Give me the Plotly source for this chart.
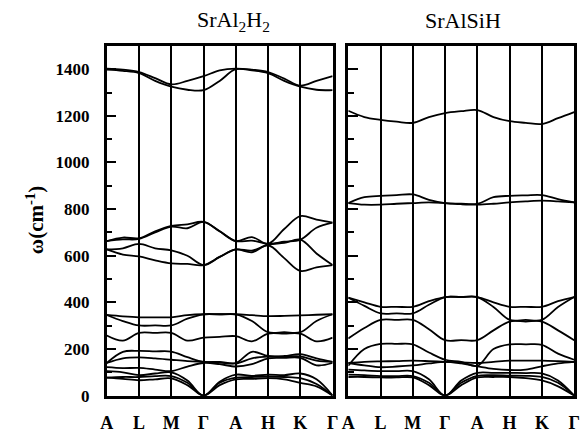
import plotly.graph_objects as go

# k-path (sampled every half segment)
k_labels = ["A", "L", "M", "Γ", "A", "H", "K", "Γ"]
k_ticks = [0, 1, 2, 3, 4, 5, 6, 7]
k_samples = [0, 0.5, 1, 1.5, 2, 2.5, 3, 3.5, 4, 4.5, 5, 5.5, 6, 6.5, 7]

# ---------------- SrAl2H2 phonon bands (cm^-1) ----------------
sral2h2_h1 = [1403, 1398, 1388, 1362, 1335, 1350, 1370, 1395, 1403, 1398, 1388, 1360, 1330, 1350, 1370]
sral2h2_h2 = [1398, 1393, 1383, 1350, 1325, 1312, 1310, 1350, 1400, 1395, 1383, 1350, 1325, 1312, 1310]
sral2h2_m1 = [663, 678, 675, 705, 728, 735, 745, 705, 663, 680, 651, 715, 770, 755, 742]
sral2h2_m2 = [663, 670, 672, 700, 725, 718, 745, 705, 663, 665, 651, 660, 669, 720, 742]
sral2h2_m3 = [627, 632, 651, 632, 623, 600, 560, 595, 627, 622, 648, 655, 669, 610, 560]
sral2h2_m4 = [627, 605, 597, 580, 567, 565, 560, 595, 627, 615, 645, 590, 535, 550, 560]
sral2h2_c1 = [346, 340, 336, 336, 336, 345, 349, 349, 349, 345, 341, 342, 344, 347, 349]
sral2h2_c2 = [346, 320, 301, 301, 301, 330, 349, 349, 349, 320, 272, 272, 272, 320, 349]
sral2h2_c3 = [258, 236, 269, 269, 269, 236, 249, 252, 255, 233, 266, 266, 266, 233, 249]
sral2h2_d1 = [140, 188, 192, 190, 189, 165, 145, 145, 140, 188, 170, 170, 178, 160, 145]
sral2h2_d2 = [140, 160, 164, 160, 154, 148, 145, 142, 138, 160, 167, 167, 168, 150, 145]
sral2h2_d3 = [122, 118, 119, 112, 105, 125, 140, 135, 125, 135, 160, 162, 162, 130, 140]
sral2h2_d4 = [105, 100, 88, 95, 100, 65, 0, 60, 90, 85, 90, 88, 95, 70, 0]
sral2h2_d5 = [77, 80, 80, 84, 84, 55, 0, 55, 77, 80, 82, 80, 75, 50, 0]
sral2h2_d6 = [77, 72, 66, 70, 74, 45, 0, 45, 70, 72, 75, 70, 55, 40, 0]

# ---------------- SrAlSiH phonon bands (cm^-1) ----------------
sralsih_h1 = [1222, 1195, 1183, 1175, 1170, 1195, 1212, 1220, 1225, 1195, 1177, 1170, 1165, 1190, 1216]
sralsih_m1 = [826, 851, 857, 860, 863, 840, 826, 823, 823, 851, 857, 859, 860, 843, 829]
sralsih_m2 = [826, 819, 819, 823, 826, 829, 826, 821, 819, 823, 829, 833, 836, 833, 829]
sralsih_e1 = [420, 400, 381, 381, 381, 405, 423, 423, 423, 400, 381, 381, 381, 405, 423]
sralsih_e2 = [420, 385, 353, 353, 353, 390, 423, 423, 423, 380, 325, 325, 325, 380, 423]
sralsih_e3 = [245, 290, 325, 325, 325, 285, 238, 238, 238, 280, 318, 318, 318, 280, 238]
sralsih_f1 = [128, 200, 222, 222, 220, 185, 154, 145, 128, 200, 220, 220, 218, 180, 154]
sralsih_g1 = [140, 145, 147, 148, 150, 148, 145, 143, 140, 145, 150, 150, 150, 148, 145]
sralsih_g2 = [140, 130, 122, 125, 130, 138, 145, 138, 126, 115, 110, 112, 126, 138, 145]
sralsih_a1 = [112, 108, 105, 105, 105, 70, 0, 65, 98, 98, 98, 97, 95, 65, 0]
sralsih_a2 = [90, 88, 84, 84, 84, 55, 0, 55, 85, 88, 86, 85, 80, 55, 0]
sralsih_a3 = [80, 80, 78, 78, 78, 45, 0, 45, 78, 80, 80, 75, 65, 40, 0]

left_bands = [sral2h2_h1, sral2h2_h2, sral2h2_m1, sral2h2_m2, sral2h2_m3, sral2h2_m4,
              sral2h2_c1, sral2h2_c2, sral2h2_c3, sral2h2_d1, sral2h2_d2, sral2h2_d3,
              sral2h2_d4, sral2h2_d5, sral2h2_d6]
right_bands = [sralsih_h1, sralsih_m1, sralsih_m2, sralsih_e1, sralsih_e2, sralsih_e3,
               sralsih_f1, sralsih_g1, sralsih_g2, sralsih_a1, sralsih_a2, sralsih_a3]

W, H = 587, 433
fig = go.Figure()

for b in left_bands:
    fig.add_trace(go.Scatter(x=k_samples, y=b, mode="lines", xaxis="x", yaxis="y",
                             line=dict(color="black", width=1.8, shape="spline", smoothing=1.0),
                             showlegend=False, hoverinfo="skip"))
for b in right_bands:
    fig.add_trace(go.Scatter(x=k_samples, y=b, mode="lines", xaxis="x2", yaxis="y2",
                             line=dict(color="black", width=1.8, shape="spline", smoothing=1.0),
                             showlegend=False, hoverinfo="skip"))

def px_x(p):
    return p / W

def px_y(p):
    return 1 - p / H

serif = "Liberation Serif"

xaxis_common = dict(range=[0, 7], tickvals=k_ticks, ticktext=k_labels, ticks="",
                    showgrid=True, gridcolor="black", gridwidth=2, zeroline=False,
                    showline=True, linecolor="black", linewidth=2.5, mirror=True,
                    tickfont=dict(family=serif, size=18, color="black", weight="bold"),
                    ticklabelstandoff=9)
yaxis_common = dict(range=[0, 1500], tickvals=[0, 200, 400, 600, 800, 1000, 1200, 1400],
                    ticks="inside", ticklen=10, tickwidth=2, tickcolor="black",
                    minor=dict(dtick=100, ticks="inside", ticklen=6, tickwidth=2, tickcolor="black"),
                    showgrid=False, zeroline=False,
                    showline=True, linecolor="black", linewidth=2.5, mirror=True)

fig.update_layout(
    width=W, height=H,
    margin=dict(l=0, r=0, t=0, b=0),
    paper_bgcolor="white", plot_bgcolor="white",
    xaxis=dict(domain=[px_x(102), px_x(333)], anchor="y", **xaxis_common),
    xaxis2=dict(domain=[px_x(349), px_x(580)], anchor="y2", **xaxis_common),
    yaxis=dict(domain=[px_y(405), px_y(47)], anchor="x",
               tickfont=dict(family=serif, size=17, color="black", weight="bold"),
               ticklabelstandoff=11, **yaxis_common),
    yaxis2=dict(domain=[px_y(405), px_y(47)], anchor="x2", showticklabels=False,
                **yaxis_common),
    annotations=[
        dict(text="SrAl<sub>2</sub>H<sub>2</sub>", x=px_x(232), y=px_y(21), xref="paper", yref="paper",
             xanchor="center", yanchor="middle",
             showarrow=False, font=dict(family=serif, size=22, color="black")),
        dict(text="SrAlSiH", x=px_x(466), y=px_y(21), xref="paper", yref="paper",
             xanchor="center", yanchor="middle",
             showarrow=False, font=dict(family=serif, size=22, color="black")),
        dict(text="<b>ω(cm<sup>-1</sup>)</b>", x=px_x(29), y=px_y(225), xref="paper", yref="paper",
             xanchor="center", yanchor="middle",
             textangle=-90, showarrow=False, font=dict(family=serif, size=21, color="black")),
    ],
)

fig.write_html("out.html")
